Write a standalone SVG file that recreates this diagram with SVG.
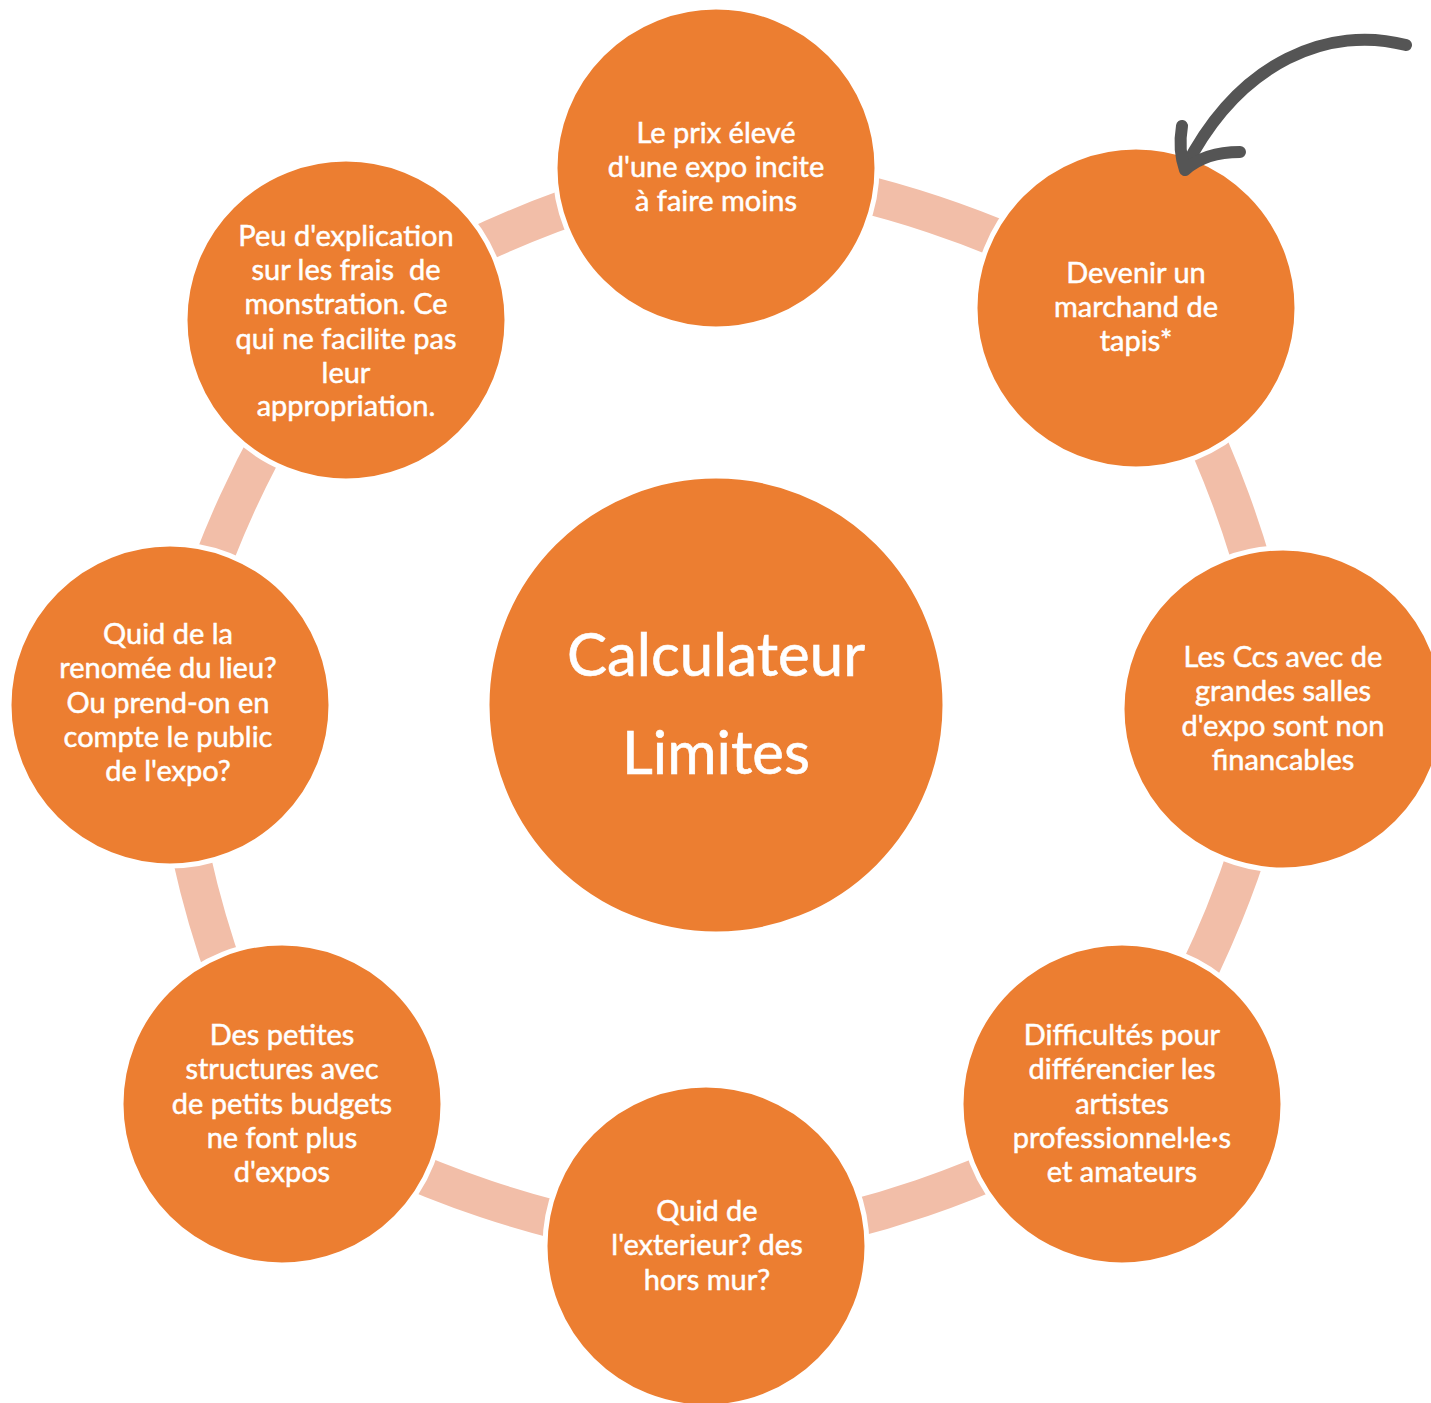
<svg xmlns="http://www.w3.org/2000/svg" width="1431" height="1403" viewBox="0 0 1431 1403">
<style>
.ring{fill:none;stroke:#F2BEA8;stroke-width:38}
.node{fill:#EC7E31;stroke:#FFFFFF;stroke-width:5}
.t{font-family:Lato,"Open Sans","Liberation Sans",sans-serif;font-size:29px;fill:#FFFFFF;stroke:#FFFFFF;stroke-width:0.5;text-anchor:middle;white-space:pre}
.big{font-family:Lato,"Open Sans","Liberation Sans",sans-serif;font-size:60px;fill:#FFFFFF;stroke:#FFFFFF;stroke-width:0.6;text-anchor:middle}
.arrow{fill:none;stroke:#555555;stroke-width:12;stroke-linecap:round;stroke-linejoin:round}
</style>
<rect width="1431" height="1403" fill="#FFFFFF"/>
<g id="connectors">
<path class="ring" d="M716,168 A1000,1000 0 0 1 1136,308"/>
<path class="ring" d="M1136,308 A1000,1000 0 0 1 1283,709"/>
<path class="ring" d="M1283,709 A1000,1000 0 0 1 1122,1104"/>
<path class="ring" d="M1122,1104 A1000,1000 0 0 1 706,1246"/>
<path class="ring" d="M706,1246 A1000,1000 0 0 1 282,1104"/>
<path class="ring" d="M282,1104 A1000,1000 0 0 1 170,705"/>
<path class="ring" d="M170,705 A1000,1000 0 0 1 346,320"/>
<path class="ring" d="M346,320 A1000,1000 0 0 1 716,168"/>
</g>
<g id="center">
<circle class="node" cx="716" cy="705" r="229"/>
<text class="big" x="716" y="676">Calculateur</text>
<text class="big" x="716" y="774">Limites</text>
</g>
<g id="n1">
<circle class="node" cx="716" cy="168" r="161"/>
<text class="t" x="716" y="143">Le prix élevé</text>
<text class="t" x="716" y="177">d'une expo incite</text>
<text class="t" x="716" y="211">à faire moins</text>
</g>
<g id="n2">
<circle class="node" cx="1136" cy="308" r="161"/>
<text class="t" x="1136" y="283">Devenir un</text>
<text class="t" x="1136" y="317">marchand de</text>
<text class="t" x="1136" y="351">tapis*</text>
</g>
<g id="n3">
<circle class="node" cx="1283" cy="709" r="161"/>
<text class="t" x="1283" y="667">Les Ccs avec de</text>
<text class="t" x="1283" y="701">grandes salles</text>
<text class="t" x="1283" y="736">d'expo sont non</text>
<text class="t" x="1283" y="770">financables</text>
</g>
<g id="n4">
<circle class="node" cx="1122" cy="1104" r="161"/>
<text class="t" x="1122" y="1045">Difficultés pour</text>
<text class="t" x="1122" y="1079">différencier les</text>
<text class="t" x="1122" y="1114">artistes</text>
<text class="t" x="1122" y="1148">professionnel·le·s</text>
<text class="t" x="1122" y="1182">et amateurs</text>
</g>
<g id="n5">
<circle class="node" cx="706" cy="1246" r="161"/>
<text class="t" x="707" y="1221">Quid de</text>
<text class="t" x="707" y="1255">l'exterieur? des</text>
<text class="t" x="707" y="1290">hors mur?</text>
</g>
<g id="n6">
<circle class="node" cx="282" cy="1104" r="161"/>
<text class="t" x="282" y="1045">Des petites</text>
<text class="t" x="282" y="1079">structures avec</text>
<text class="t" x="282" y="1114">de petits budgets</text>
<text class="t" x="282" y="1148">ne font plus</text>
<text class="t" x="282" y="1182">d'expos</text>
</g>
<g id="n7">
<circle class="node" cx="170" cy="705" r="161"/>
<text class="t" x="168" y="644">Quid de la</text>
<text class="t" x="168" y="678">renomée du lieu?</text>
<text class="t" x="168" y="713">Ou prend-on en</text>
<text class="t" x="168" y="747">compte le public</text>
<text class="t" x="168" y="781">de l'expo?</text>
</g>
<g id="n8">
<circle class="node" cx="346" cy="320" r="161"/>
<text class="t" x="346" y="246">Peu d'explication</text>
<text class="t" x="346" y="280">sur les frais  de</text>
<text class="t" x="346" y="314">monstration. Ce</text>
<text class="t" x="346" y="349">qui ne facilite pas</text>
<text class="t" x="346" y="383">leur</text>
<text class="t" x="346" y="416">appropriation.</text>
</g>
<g id="arrow">
<path class="arrow" d="M1406,45 C1330,25 1240,60 1185,168"/>
<path class="arrow" d="M1182,126 Q1178,150 1185,170 Q1205,152 1240,152"/>
</g>
</svg>
